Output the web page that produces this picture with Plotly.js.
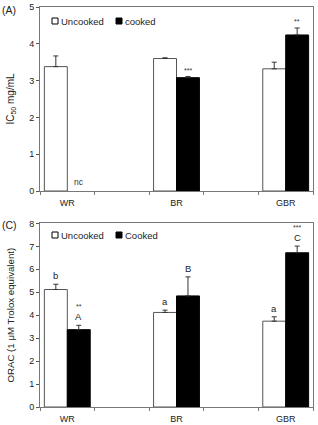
<!DOCTYPE html>
<html>
<head>
<meta charset="utf-8">
<script src="https://cdn.plot.ly/plotly-3.0.1.min.js"></script>
<style>html,body{margin:0;padding:0;background:#fff}#chart{width:318px;height:425px}</style>
</head>
<body>
<div id="chart"></div>
<script>
// ---- data ----
var categories = ['WR', 'BR', 'GBR'];
var ic50Uncooked = [3.38, 3.60, 3.32];
var ic50UncookedErr = [0.29, 0.02, 0.18];
var ic50Cooked = [null, 3.08, 4.24];
var ic50CookedErr = [0, 0.03, 0.19];
var ic50CookedMarks = ['', '***', '**'];

var oracUncooked = [5.12, 4.12, 3.74];
var oracUncookedErr = [0.23, 0.10, 0.19];
var oracCooked = [3.37, 4.84, 6.72];
var oracCookedErr = [0.19, 0.83, 0.29];
var oracUncookedLetters = ['b', 'a', 'a'];
var oracCookedLetters = ['A', 'B', 'C'];
var oracCookedStars = ['**', '', '***'];

var FONT = 'Liberation Sans, Arial, sans-serif';
var pos = categories.map(function (c, i) { return i; });
var half = 0.105;

function barTrace(y, err, fill, xa, ya, name) {
  return {
    type: 'bar', x: pos, y: y, name: name, xaxis: xa, yaxis: ya, showlegend: false,
    marker: {color: fill, line: {color: fill === '#ffffff' ? '#555555' : '#000000', width: 1}},
    error_y: {type: 'data', symmetric: false, array: err, arrayminus: err.map(function () { return 0; }),
              color: '#333333', thickness: 1, width: 2.5}
  };
}

var data = [
  barTrace(ic50Uncooked, ic50UncookedErr, '#ffffff', 'x', 'y', 'Uncooked'),
  barTrace(ic50Cooked, ic50CookedErr, '#000000', 'x', 'y', 'cooked'),
  barTrace(oracUncooked, oracUncookedErr, '#ffffff', 'x2', 'y2', 'Uncooked'),
  barTrace(oracCooked, oracCookedErr, '#000000', 'x2', 'y2', 'Cooked')
];

var annotations = [];
function ann(o) {
  var base = {showarrow: false, font: {family: FONT, size: 9.5, color: '#222'}};
  for (var k in o) base[k] = o[k];
  annotations.push(base);
}

// panel labels
ann({xref: 'paper', yref: 'paper', x: -0.145, y: 0.993, xanchor: 'left', yanchor: 'middle', text: '(A)', font: {family: FONT, size: 10.5, color: '#222'}});
ann({xref: 'paper', yref: 'paper', x: -0.145, y: 0.455, xanchor: 'left', yanchor: 'middle', text: '(C)', font: {family: FONT, size: 10.5, color: '#222'}});

// top: nc and stars
categories.forEach(function (c, i) {
  if (ic50Cooked[i] === null) {
    ann({xref: 'x', yref: 'y', x: pos[i] + half, y: 0, yanchor: 'bottom', yshift: 2, text: 'nc', font: {family: FONT, size: 8.5, color: '#333'}});
  }
  if (ic50CookedMarks[i]) {
    ann({xref: 'x', yref: 'y', x: pos[i] + half, y: ic50Cooked[i] + ic50CookedErr[i], yanchor: 'bottom', yshift: 1,
         text: ic50CookedMarks[i], font: {family: FONT, size: 7, color: '#333'}});
  }
});

// bottom: letters and stars
categories.forEach(function (c, i) {
  ann({xref: 'x2', yref: 'y2', x: pos[i] - half, y: oracUncooked[i] + oracUncookedErr[i], yanchor: 'bottom', yshift: 1,
       text: oracUncookedLetters[i]});
  ann({xref: 'x2', yref: 'y2', x: pos[i] + half, y: oracCooked[i] + oracCookedErr[i], yanchor: 'bottom', yshift: 1,
       text: oracCookedLetters[i]});
  if (oracCookedStars[i]) {
    ann({xref: 'x2', yref: 'y2', x: pos[i] + half, y: oracCooked[i] + oracCookedErr[i], yanchor: 'bottom', yshift: 13,
         text: oracCookedStars[i], font: {family: FONT, size: 7, color: '#333'}});
  }
});

// legends (drawn as squares + text)
var shapes = [];
function legendItem(px, py, fill, label) {
  var x0 = (px - 40) / 273, x1 = (px + 6 - 40) / 273;
  var yc = (407 - py) / 400, h = 3 / 400;
  shapes.push({type: 'rect', xref: 'paper', yref: 'paper', x0: x0, x1: x1, y0: yc - h, y1: yc + h,
               fillcolor: fill, line: {color: '#000', width: 1}});
  ann({xref: 'paper', yref: 'paper', x: (px + 7 - 40) / 273, y: yc, xanchor: 'left', yanchor: 'middle', text: label});
}
legendItem(52, 21, '#ffffff', data[0].name);
legendItem(116, 21, '#000000', data[1].name);
legendItem(52, 235, '#ffffff', data[2].name);
legendItem(116, 235, '#000000', data[3].name);

function xaxis(anchor) {
  return {
    anchor: anchor, domain: [0, 1], range: [-0.25, 2.25], type: 'linear',
    tickvals: pos, ticktext: categories, ticks: '', showgrid: false, zeroline: false,
    showline: true, mirror: true, linecolor: '#777', linewidth: 1,
    tickfont: {family: FONT, size: 9, color: '#222'}, ticklabelstandoff: 3,
    minor: {ticks: 'outside', tick0: 0.25, dtick: 0.5, ticklen: 3, tickcolor: '#777', showgrid: false}
  };
}
function yaxis(anchor, domain, range, dtick, title, tsize) {
  return {
    anchor: anchor, domain: domain, range: range, dtick: dtick, ticks: 'outside', ticklen: 3,
    tickcolor: '#555', showgrid: false, zeroline: false, showline: true, mirror: true,
    linecolor: '#777', linewidth: 1, tickfont: {family: FONT, size: 9, color: '#222'},
    title: {text: title, font: {family: FONT, size: tsize, color: '#222'}, standoff: 12}
  };
}

var layout = {
  width: 318, height: 425,
  margin: {l: 40, r: 5, t: 7, b: 18},
  paper_bgcolor: '#fff', plot_bgcolor: '#fff',
  barmode: 'group', bargap: 0.58, bargroupgap: 0,
  showlegend: false,
  xaxis: xaxis('y'),
  yaxis: yaxis('x', [0.54, 1], [0, 5], 1, 'IC<sub>50</sub> mg/mL', 10),
  xaxis2: xaxis('y2'),
  yaxis2: yaxis('x2', [0, 0.459], [0, 8], 1, 'ORAC (1 μM Trolox equivalent)', 9.7),
  annotations: annotations,
  shapes: shapes
};

Plotly.newPlot('chart', data, layout, {displayModeBar: false, staticPlot: true});
</script>
</body>
</html>
